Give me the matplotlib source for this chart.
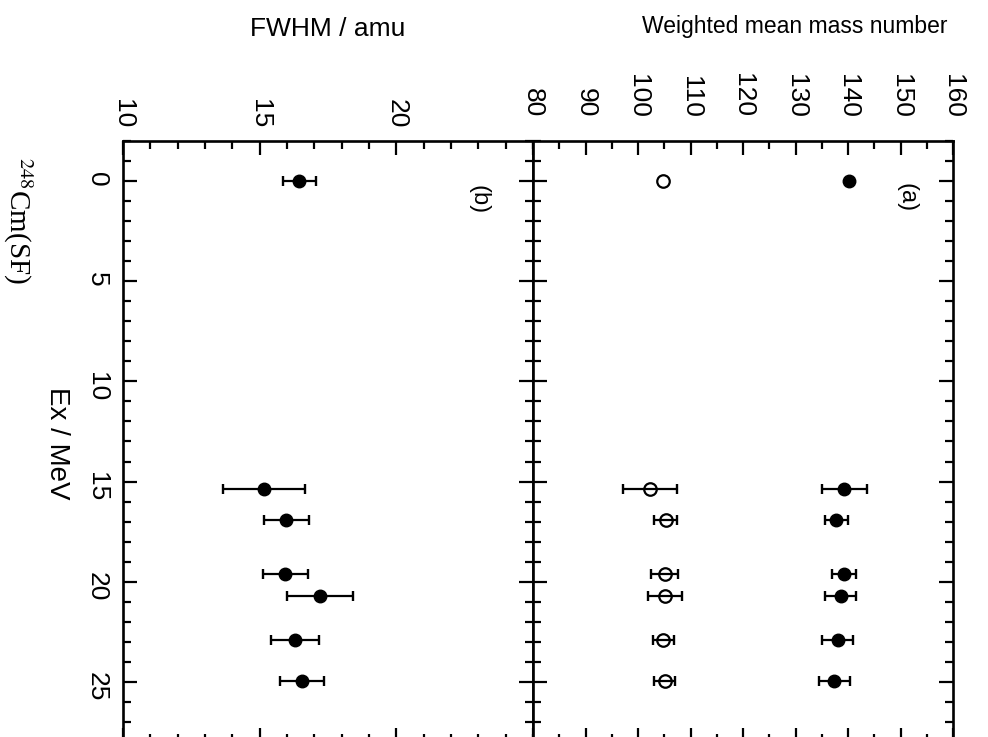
"""Weighted mean mass number and FWHM vs excitation energy, 248Cm(SF) (rotated layout)."""

import numpy as np
import matplotlib as mpl

mpl.use("Agg")
import matplotlib.pyplot as plt
from matplotlib.ticker import MultipleLocator

plt.rcParams.update({"font.family": ["Liberation Sans", "DejaVu Sans"], "mathtext.fontset": "stix"})

# excitation energy / MeV
ex = np.array([0.0, 15.35, 16.9, 19.6, 20.7, 22.9, 24.95])

# (a) weighted mean mass numbers
heavy = np.array([140.1, 139.3, 137.8, 139.2, 138.6, 138.0, 137.4])
heavy_err = np.array([0.0, 4.3, 2.2, 2.3, 3.0, 3.0, 3.0])
light = np.array([104.8, 102.3, 105.3, 105.1, 105.1, 104.8, 105.1])
light_err = np.array([0.0, 5.1, 2.2, 2.6, 3.2, 2.0, 2.0])

# (b) FWHM / amu
fwhm = np.array([16.45, 15.15, 15.98, 15.94, 17.2, 16.3, 16.56])
fwhm_err = np.array([0.6, 1.5, 0.82, 0.83, 1.2, 0.87, 0.8])

fwhm_ticks = [10, 15, 20]
mass_ticks = [80, 90, 100, 110, 120, 130, 140, 150, 160]

fig = plt.figure(figsize=(9.88, 7.37), dpi=100)
ax_b = fig.add_axes([0.1245, -0.0068, 0.415, 0.8155])
ax_a = fig.add_axes([0.5395, -0.0068, 0.4251, 0.8155], sharey=ax_b)

for ax in (ax_a, ax_b):
    ax.set_ylim(28, -2)
    ax.yaxis.set_major_locator(MultipleLocator(5))
    ax.yaxis.set_minor_locator(MultipleLocator(1))
    ax.tick_params(which="both", direction="in", top=True, bottom=True,
                   left=True, right=True, width=1.6, color="black")
    ax.tick_params(which="major", length=10)
    ax.tick_params(which="minor", length=6)
    ax.tick_params(axis="x", labeltop=True, labelbottom=False,
                   labelrotation=-90, labelsize=19)
    for s in ax.spines.values():
        s.set_linewidth(1.9)

# panel (b): FWHM
ax_b.set_xlim(10, 25)
ax_b.set_xticks(fwhm_ticks)
ax_b.xaxis.set_minor_locator(MultipleLocator(1))
ax_b.tick_params(axis="x", pad=9)
ax_b.tick_params(axis="y", labelrotation=-90, labelsize=19, pad=10)
ax_b.errorbar(fwhm, ex, xerr=fwhm_err, fmt="o", color="black", ms=9,
              elinewidth=1.6, capsize=3.5, capthick=1.7)
ax_b.text(23.0, 0.9, "(b)", rotation=-90, fontsize=17, ha="center", va="center")

# panel (a): mass numbers
ax_a.set_xlim(80, 160)
ax_a.set_xticks(mass_ticks)
ax_a.xaxis.set_minor_locator(MultipleLocator(5))
ax_a.tick_params(axis="x", pad=17)
ax_a.tick_params(axis="y", labelleft=False)
has_err = heavy_err > 0
ax_a.errorbar(heavy[has_err], ex[has_err], xerr=heavy_err[has_err], fmt="none",
              ecolor="black", elinewidth=1.6, capsize=3.5, capthick=1.7)
ax_a.errorbar(light[has_err], ex[has_err], xerr=light_err[has_err], fmt="none",
              ecolor="black", elinewidth=1.6, capsize=3.5, capthick=1.7)
ax_a.plot(heavy, ex, "o", color="black", ms=9, ls="none")
ax_a.plot(light, ex, "o", mfc="none", mec="black", mew=1.6, ms=9, ls="none")
ax_a.text(151.2, 0.8, "(a)", rotation=-90, fontsize=17, ha="center", va="center")

fig.text(328 / 988, 1 - 29 / 737, "FWHM / amu", fontsize=19, ha="center", va="center")
fig.text(795 / 988, 1 - 26 / 737, "Weighted mean mass number", fontsize=16.5,
         ha="center", va="center")
fig.text(57 / 988, 1 - 443 / 737, "Ex / MeV", fontsize=20, rotation=-90,
         ha="center", va="center")
fig.text(34 / 988, 1 - 157 / 737, r"$^{248}$Cm(SF)", fontsize=21, rotation=-90,
         family="Liberation Serif", ha="right", va="top")

plt.savefig("out.png", dpi=100, facecolor="white")
